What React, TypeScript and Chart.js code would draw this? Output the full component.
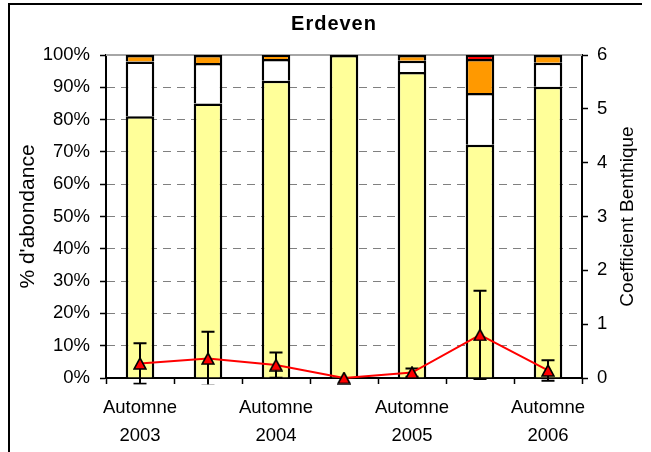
import React, { useEffect, useRef } from 'react';
import { Chart, registerables } from 'chart.js';

Chart.register(...registerables);

// ---- Data ----
const categories = ['Automne 2003', 'Printemps 2004', 'Automne 2004', 'Printemps 2005', 'Automne 2005', 'Printemps 2006', 'Automne 2006'];
const tickLabels: (string | string[])[] = [['Automne', '2003'], '', ['Automne', '2004'], '', ['Automne', '2005'], '', ['Automne', '2006']];

const groupI = [81, 85, 92, 100, 94.7, 72.2, 90.2];
const groupII = [17, 12.5, 6.8, 0, 3.5, 16, 7.4];
const groupIII = [2, 2.5, 1.2, 0, 1.8, 10.6, 2.4];
const groupIV = [0, 0, 0, 0, 0, 1.2, 0];

const coefBenthique = [0.27, 0.36, 0.24, 0, 0.1, 0.8, 0.14];
const coefError = [0.375, 0.5, 0.235, 0, 0.075, 0.82, 0.19];

const pctTicks = [0, 10, 20, 30, 40, 50, 60, 70, 80, 90, 100];
const coefTicks = [0, 1, 2, 3, 4, 5, 6];

const FONT = '"Liberation Sans", Arial, sans-serif';
const LINE_INDEX = 4;

const framePlugin = {
  id: 'frame',
  beforeDraw(chart: any) {
    const ctx = chart.ctx;
    ctx.save();
    ctx.fillStyle = '#fff';
    ctx.fillRect(0, 0, chart.width, chart.height);
    ctx.strokeStyle = '#000';
    ctx.lineWidth = 2;
    ctx.beginPath();
    ctx.moveTo(9, chart.height + 2);
    ctx.lineTo(9, 4);
    ctx.lineTo(642, 4);
    ctx.stroke();
    ctx.restore();
  },
  beforeDatasetsDraw(chart: any) {
    const ctx = chart.ctx;
    const { left, right, top } = chart.chartArea;
    ctx.save();
    ctx.strokeStyle = '#a6a6a6';
    ctx.lineWidth = 2;
    ctx.beginPath();
    ctx.moveTo(left, top);
    ctx.lineTo(right, top);
    ctx.stroke();
    ctx.restore();
  },
  afterDraw(chart: any) {
    const ctx = chart.ctx;
    const { top, bottom } = chart.chartArea;
    ctx.save();
    ctx.fillStyle = '#000';
    ctx.font = `bold 20px ${FONT}`;
    (ctx as any).letterSpacing = '1px';
    ctx.textAlign = 'center';
    ctx.textBaseline = 'alphabetic';
    ctx.fillText('Erdeven', 334, 30);
    (ctx as any).letterSpacing = '0px';
    // right axis title, reading bottom to top
    ctx.font = `19px ${FONT}`;
    ctx.textBaseline = 'middle';
    ctx.translate(628, (top + bottom) / 2);
    ctx.rotate(-Math.PI / 2);
    ctx.fillText('Coefficient Benthique', 0, 0);
    ctx.restore();
  },
};

const errorBarPlugin = {
  id: 'errorBars',
  beforeDatasetDraw(chart: any, args: any) {
    if (args.index !== LINE_INDEX) return;
    const meta = chart.getDatasetMeta(LINE_INDEX);
    const y2 = chart.scales.y2;
    const ctx = chart.ctx;
    const { left, right, bottom } = chart.chartArea;
    ctx.save();
    ctx.beginPath();
    ctx.rect(left, 0, right - left, bottom + 6.5);
    ctx.clip();
    ctx.strokeStyle = '#000';
    ctx.lineWidth = 2;
    meta.data.forEach((pt: any, i: number) => {
      const e = coefError[i];
      if (!e) return;
      const v = coefBenthique[i];
      const yTop = y2.getPixelForValue(v + e);
      const yBot = y2.getPixelForValue(v - e);
      const x = pt.x;
      ctx.beginPath();
      ctx.moveTo(x, yTop);
      ctx.lineTo(x, yBot);
      ctx.moveTo(x - 6.5, yTop);
      ctx.lineTo(x + 6.5, yTop);
      ctx.moveTo(x - 6.5, yBot);
      ctx.lineTo(x + 6.5, yBot);
      ctx.stroke();
    });
    ctx.restore();
  },
};

function makeTriangle(): HTMLCanvasElement {
  const c = document.createElement('canvas');
  c.width = 14;
  c.height = 13;
  const g = c.getContext('2d')!;
  g.beginPath();
  g.moveTo(7, 1);
  g.lineTo(13, 12);
  g.lineTo(1, 12);
  g.closePath();
  g.fillStyle = '#ff0000';
  g.fill();
  g.strokeStyle = '#000';
  g.lineWidth = 1.6;
  g.lineJoin = 'miter';
  g.stroke();
  return c;
}

export default function App() {
  const ref = useRef<HTMLCanvasElement>(null);

  useEffect(() => {
    if (!ref.current) return;
    const tri = makeTriangle();
    const barCommon = {
      type: 'bar' as const,
      borderColor: '#000',
      borderWidth: 2.5,
      barPercentage: 0.42,
      categoryPercentage: 1,
      yAxisID: 'y',
      order: 1,
      stack: 's',
    };
    const chart = new Chart(ref.current, {
      type: 'bar',
      data: {
        labels: categories,
        datasets: [
          { ...barCommon, label: 'Groupe I', data: groupI, backgroundColor: '#ffff99' },
          { ...barCommon, label: 'Groupe II', data: groupII, backgroundColor: '#ffffff' },
          { ...barCommon, label: 'Groupe III', data: groupIII, backgroundColor: '#ff9900' },
          { ...barCommon, label: 'Groupe IV', data: groupIV, backgroundColor: '#ff0000' },
          {
            type: 'line' as const,
            label: 'Coefficient Benthique',
            data: coefBenthique,
            yAxisID: 'y2',
            borderColor: '#ff0000',
            borderWidth: 2,
            tension: 0,
            pointStyle: tri as any,
            pointRadius: 6,
            clip: false as any,
            order: 0,
          } as any,
        ],
      },
      options: {
        responsive: false,
        animation: false,
        devicePixelRatio: 1,
        layout: { padding: { left: 0, right: 0, top: 55, bottom: 0 } },
        plugins: {
          legend: { display: false },
          title: { display: false },
          tooltip: { enabled: false },
        },
        scales: {
          x: {
            stacked: true,
            afterFit: (s: any) => { s.height = 74; },
            grid: { offset: true, drawOnChartArea: false, tickLength: 6, tickColor: '#000', tickWidth: 1.5 },
            border: { color: '#000', width: 2 },
            ticks: {
              autoSkip: false,
              maxRotation: 0,
              minRotation: 0,
              color: '#000',
              padding: 10,
              font: { family: FONT, size: 18.5, lineHeight: 1.5 },
              callback: (_v: any, i: number) => tickLabels[i],
            },
          },
          y: {
            stacked: true,
            position: 'left',
            min: 0,
            max: 100,
            afterFit: (s: any) => { s.width = 106; },
            afterBuildTicks: (s: any) => { s.ticks = pctTicks.map((v) => ({ value: v })); },
            grid: { color: '#808080', lineWidth: 1, tickLength: 6, tickColor: '#000', tickWidth: 1.5 },
            border: { color: '#000', width: 2, dash: [8, 6] },
            ticks: {
              color: '#000',
              padding: 10,
              font: { family: FONT, size: 18.5 },
              callback: (v: any) => `${v}%`,
            },
            title: {
              display: true,
              text: "% d'abondance",
              color: '#000',
              font: { family: FONT, size: 21 },
              padding: 16,
            },
          },
          y2: {
            position: 'right',
            min: 0,
            max: 6,
            afterFit: (s: any) => { s.width = 69; },
            afterBuildTicks: (s: any) => { s.ticks = coefTicks.map((v) => ({ value: v })); },
            grid: { drawOnChartArea: false, tickLength: 6, tickColor: '#000', tickWidth: 1.5 },
            border: { color: '#000', width: 2 },
            ticks: {
              color: '#000',
              padding: 9,
              font: { family: FONT, size: 18.5 },
            },
            title: { display: false },
          },
        },
      },
      plugins: [framePlugin, errorBarPlugin],
    } as any);
    return () => chart.destroy();
  }, []);

  return (
    <div style={{ position: 'fixed', left: 0, top: 0, width: 651, height: 452, background: '#fff' }}>
      <canvas ref={ref} width={651} height={452} style={{ width: 651, height: 452, display: 'block' }} />
    </div>
  );
}
